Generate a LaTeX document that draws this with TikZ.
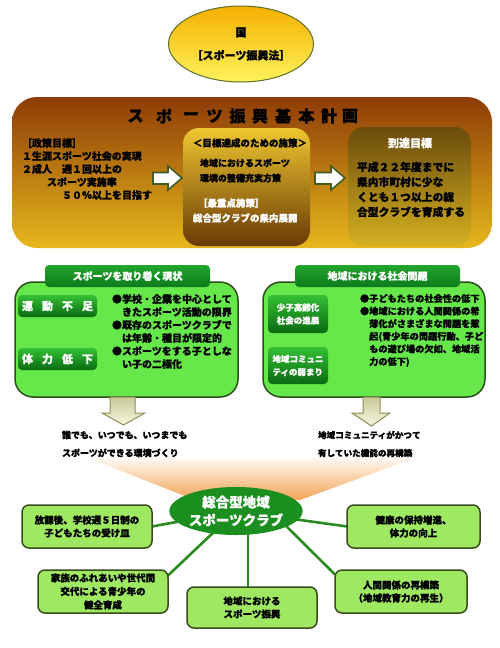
\documentclass[tikz,border=0pt]{standalone}
\usepackage{fontspec}
\setmainfont{Noto Sans CJK JP}[BoldFeatures={FakeBold=1}]
\usetikzlibrary{shapes.geometric,backgrounds,calc}
\definecolor{kuniTop}{HTML}{F5B000}
\definecolor{kuniBot}{HTML}{FFF35C}
\definecolor{kuniLine}{HTML}{5E6E2A}
\definecolor{planTop}{HTML}{8E3C06}
\definecolor{planBot}{HTML}{E6B81C}
\definecolor{midTop}{HTML}{EEC630}
\definecolor{midMid}{HTML}{C49620}
\definecolor{midBot}{HTML}{6A3A06}
\definecolor{goalTop}{HTML}{6A4C0C}
\definecolor{goalBot}{HTML}{D6B020}
\definecolor{gFill}{HTML}{66E84A}
\definecolor{gLine}{HTML}{2C4E1E}
\definecolor{tabTop}{HTML}{22A62E}
\definecolor{tabBot}{HTML}{0C7A1C}
\definecolor{labTop}{HTML}{34C034}
\definecolor{labBot}{HTML}{0A6A12}
\definecolor{arrowGreen}{HTML}{3E5E22}
\definecolor{daTop}{HTML}{CACA98}
\definecolor{daBot}{HTML}{F6F6E2}
\definecolor{daLine}{HTML}{8E8E5A}
\definecolor{funTop}{HTML}{FFF9F2}
\definecolor{funBot}{HTML}{F2A456}
\definecolor{clubGreen}{HTML}{1A8E1E}
\definecolor{oFill}{HTML}{9EE862}
\definecolor{oLine}{HTML}{3A4A1E}
\definecolor{connGreen}{HTML}{2A8A22}
\newcommand{\fz}[2]{\fontsize{#1}{#2}\selectfont\bfseries}
\begin{document}
\begin{tikzpicture}[x=1pt,y=-1pt,
  every node/.style={inner sep=0pt, outer sep=0pt},
  txt/.style={anchor=west, align=left},
  rarrow/.style={fill=white, draw=arrowGreen, line width=1.6pt, line join=miter},
  darrow/.style={top color=daTop, bottom color=daBot, draw=daLine, line width=1pt},
  gbox/.style={rectangle, rounded corners=18pt, fill=gFill, draw=gLine, line width=1.5pt},
  tabbox/.style={rectangle, rounded corners=4pt, top color=tabTop, bottom color=tabBot, minimum height=22, text=white, font=\fz{10}{10}},
  labbox/.style={rectangle, rounded corners=4pt, top color=labTop, bottom color=labBot, text=white},
  obox/.style={rectangle, rounded corners=7pt, fill=oFill, draw=oLine, line width=1.5pt, align=center, font=\fz{9.5}{13}},
  conn/.style={draw=connGreen, line width=2.6pt}]
\useasboundingbox (0,0) rectangle (500,648);

% national ellipse
\node[ellipse, minimum width=145, minimum height=76, top color=kuniTop, bottom color=kuniBot, draw=kuniLine, line width=1pt] (kuni) at (241,44) {};
\node[align=center, font=\fz{11}{23}] (kunitxt) at (241,44) {国\\［スポーツ振興法］};

% basic plan
\node[rectangle, rounded corners=25pt, minimum width=480, minimum height=151, top color=planTop, bottom color=planBot] (plan) at (252,172.5) {};
\foreach \x/\c [count=\i] in {135.5/ス,164/ポ,191/ー,214.5/ツ,237.5/振,260/興,283/基,306.5/本,329/計,350/画}
  \node[font=\fz{16}{16}] (title\i) at (\x,116) {\c};
\node[txt, font=\fz{10}{13}] (policy) at (22,169) {［政策目標］\\１生涯スポーツ社会の実現\\２成人　週１回以上の\\\hspace{25pt}スポーツ実施率\\\hspace{40pt}５０％以上を目指す};

\path[rarrow] (153,172.5) -- (168,172.5) -- (168,166) -- (182,178) -- (168,190) -- (168,184) -- (153,184) -- cycle;

\node[rectangle, rounded corners=16pt, minimum width=127, minimum height=118, top color=midTop, middle color=midMid, bottom color=midBot] (mid) at (246.5,187) {};
\node[font=\fz{9.5}{9.5}] (midhead) at (250,143) {＜目標達成のための施策＞};
\node[txt, font=\fz{9}{15}] (midtxt) at (200,170.5) {地域におけるスポーツ\\環境の整備充実方策};
\node[txt, font=\fz{9.5}{15}, text=white] (midkey) at (193,210.5) {\hspace{5pt}［最重点施策］\\総合型クラブの県内展開};

\path[rarrow] (315,172.5) -- (331,172.5) -- (331,166) -- (345,178) -- (331,190) -- (331,184) -- (315,184) -- cycle;

\node[rectangle, rounded corners=16pt, minimum width=123, minimum height=119, top color=goalTop, bottom color=goalBot] (goal) at (409.5,186.5) {};
\node[font=\fz{11}{11}, text=white] (goalhead) at (410,143) {到達目標};
\node[txt, font=\fz{10.8}{15}] (goaltxt) at (357,189.5) {平成２２年度までに\\県内市町村に少な\\くとも１つ以上の総\\合型クラブを育成する};

% green boxes
\node[gbox, minimum width=223, minimum height=115] (gl) at (126.5,339.5) {};
\node[gbox, minimum width=222, minimum height=115] (gr) at (374,339.5) {};
\node[tabbox, minimum width=165] (gltab) at (127.5,276) {スポーツを取り巻く現状};
\node[tabbox, minimum width=165] (grtab) at (377.5,276) {地域における社会問題};

\node[labbox, minimum width=79, minimum height=22, font=\fz{11}{11}] (undo) at (57.5,306) {運\hspace{9pt}動\hspace{9pt}不\hspace{9pt}足};
\node[labbox, minimum width=79, minimum height=22, font=\fz{11}{11}] (tairyoku) at (57.5,359) {体\hspace{9pt}力\hspace{9pt}低\hspace{9pt}下};
\node[txt, font=\fz{10}{13}] (glb) at (112,331.5) {●学校・企業を中心として\\　きたスポーツ活動の限界\\●既存のスポーツクラブで\\　は年齢・種目が限定的\\●スポーツをする子としな\\　い子の二極化};

\node[labbox, minimum width=60, minimum height=38, align=left, font=\fz{8.5}{13}] (shoshi) at (298,314) {少子高齢化\\社会の進展};
\node[labbox, minimum width=60, minimum height=37, align=left, font=\fz{8.5}{13}] (comm) at (298,365.5) {地域コミュニ\\ティの弱まり};
\node[txt, font=\fz{9.2}{12.6}] (grb) at (360,330.5) {●子どもたちの社会性の低下\\●地域における人間関係の希\\　薄化がさまざまな問題を惹\\　起(青少年の問題行動、子ど\\　もの遊び場の欠如、地域活\\　力の低下)};

% down arrows
\path[darrow] (110,397) -- (135,397) -- (135,413) -- (145,413) -- (123.5,425) -- (102,413) -- (110,413) -- cycle;
\path[darrow] (363,397) -- (380,397) -- (380,413) -- (390,413) -- (371.5,426) -- (352,413) -- (363,413) -- cycle;

% funnel
\path[top color=funTop, bottom color=funBot] (88,458) -- (415,458) -- (300,500) -- (195,500) -- cycle;

\node[txt, font=\fz{9}{18}, fill=white, inner sep=1pt] (cap1) at (61,444) {誰でも、いつでも、いつまでも\\スポーツができる環境づくり};
\node[txt, font=\fz{8.6}{18}, fill=white, inner sep=1pt] (cap2) at (317,444) {地域コミュニティがかつて\\有していた機能の再構築};

% club
\node[ellipse, fill=clubGreen, minimum width=132, minimum height=48, text=white, align=center, font=\fz{13.5}{18}] (club) at (236,511) {総合型地域\\スポーツクラブ};

\node[obox, minimum width=130, minimum height=43] (boxa) at (87,526.5) {放課後、学校週５日制の\\子どもたちの受け皿};
\node[obox, minimum width=130, minimum height=43, font=\fz{9.5}{13.5}] (boxb) at (103,591.5) {家族のふれあいや世代間\\交代による青少年の\\健全育成};
\node[obox, minimum width=130, minimum height=41] (boxc) at (252,607.5) {地域における\\スポーツ振興};
\node[obox, minimum width=133, minimum height=43] (boxd) at (413.5,526.5) {健康の保持増進、\\体力の向上};
\node[obox, minimum width=132, minimum height=43] (boxe) at (401,591.5) {人間関係の再構築\\（地域教育力の再生）};

\begin{scope}[on background layer]
  \fill[white] (0,0) rectangle (500,648);
  \draw[conn] (club.center) -- (boxa.east);
  \draw[conn] (club.center) -- ($(boxb.east)+(0,-16)$);
  \draw[conn] ($(boxc.north)+(-4,0)$) -- ($(club.center)+(12,0)$);
  \draw[conn] (club.center) -- (boxd.west);
  \draw[conn] ($(club.center)+(35,0)$) -- ($(boxe.west)+(0,-17)$);
\end{scope}
\end{tikzpicture}
\end{document}
